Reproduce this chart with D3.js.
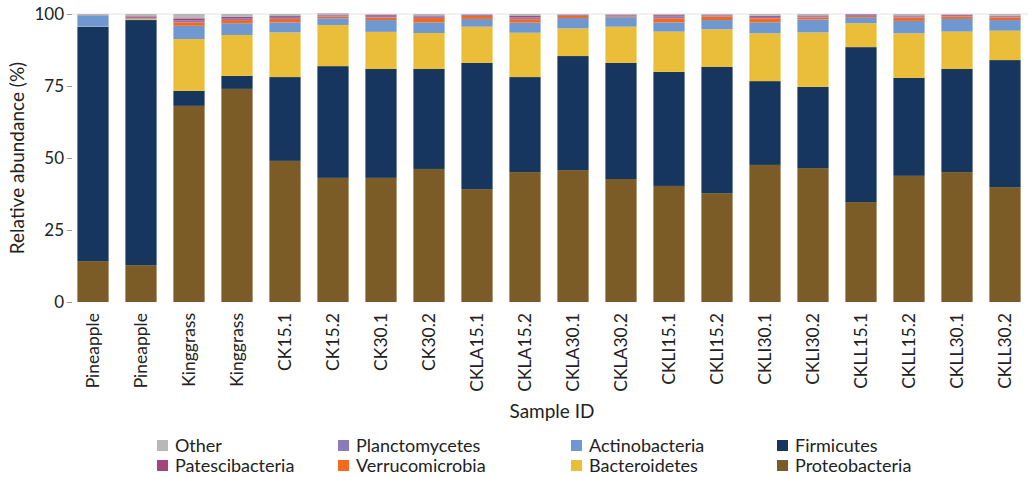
<!DOCTYPE html>
<html>
<head>
<meta charset="utf-8">
<script src="https://cdn.jsdelivr.net/npm/d3@7"></script>
<style>
  html, body { margin: 0; padding: 0; background: #fff; }
  svg { display: block; font-family: Lato, "Open Sans", sans-serif; }
</style>
</head>
<body>
<svg id="chart" width="1030" height="477"></svg>
<script>
// Samples along the x axis
const samples = ["Pineapple", "Pineapple", "Kinggrass", "Kinggrass", "CK15.1", "CK15.2", "CK30.1", "CK30.2",
  "CKLA15.1", "CKLA15.2", "CKLA30.1", "CKLA30.2", "CKLI15.1", "CKLI15.2", "CKLI30.1", "CKLI30.2",
  "CKLL15.1", "CKLL15.2", "CKLL30.1", "CKLL30.2"];

// Phyla, stacked from the bottom up
const phyla = ["Proteobacteria", "Firmicutes", "Bacteroidetes", "Actinobacteria",
  "Verrucomicrobia", "Planctomycetes", "Patescibacteria", "Other"];

// Relative abundance (%) per phylum, one value per sample
const proteobacteria  = [14.2, 12.8, 68.1, 74.0, 49.0, 43.1, 43.1, 46.2, 39.2, 45.1, 45.8, 42.7, 40.3, 37.8, 47.6, 46.5, 34.7, 43.8, 45.1, 39.9];
const firmicutes      = [81.3, 85.1,  5.2,  4.5, 29.1, 38.8, 37.8, 34.7, 43.8, 33.0, 39.6, 40.3, 39.6, 43.8, 29.1, 28.2, 53.8, 34.0, 35.8, 44.1];
const bacteroidetes   = [ 0.1,  0.3, 18.0, 14.2, 15.5, 14.3, 12.9, 12.5, 12.6, 15.4,  9.6, 12.6, 14.0, 13.1, 16.6, 18.9,  8.3, 15.5, 13.0, 10.2];
const actinobacteria  = [ 3.8,  0.3,  4.6,  4.1,  3.5,  2.3,  4.1,  3.7,  2.7,  3.5,  3.6,  3.3,  3.2,  3.2,  3.8,  4.5,  2.1,  4.3,  4.4,  3.7];
const verrucomicrobia = [ 0.0,  0.1,  1.2,  1.1,  1.2,  0.6,  0.9,  1.5,  1.0,  1.2,  0.7,  0.3,  1.4,  1.2,  1.4,  0.7,  0.4,  1.2,  0.8,  0.9];
const planctomycetes  = [ 0.1,  0.1,  0.6,  0.5,  0.7,  0.4,  0.6,  0.6,  0.3,  0.6,  0.2,  0.3,  0.7,  0.3,  0.5,  0.3,  0.3,  0.4,  0.3,  0.3];
const patescibacteria = [ 0.1,  0.5,  0.8,  0.6,  0.3,  0.3,  0.3,  0.3,  0.2,  0.5,  0.2,  0.2,  0.4,  0.2,  0.4,  0.4,  0.3,  0.3,  0.3,  0.3];
const other           = [ 0.4,  0.8,  1.5,  1.0,  0.7,  0.5,  0.3,  0.5,  0.2,  0.7,  0.3,  0.3,  0.4,  0.4,  0.6,  0.5,  0.1,  0.5,  0.3,  0.6];

const yTicks = [0, 25, 50, 75, 100];

// Legend entries in display order (two rows, four columns)
const legendOrder = ["Other", "Planctomycetes", "Actinobacteria", "Firmicutes",
  "Patescibacteria", "Verrucomicrobia", "Bacteroidetes", "Proteobacteria"];

const colors = {
  Proteobacteria: "#7b5c26",
  Firmicutes: "#16365e",
  Bacteroidetes: "#ebbe3a",
  Actinobacteria: "#6f98d0",
  Verrucomicrobia: "#f2691f",
  Planctomycetes: "#8b7bbb",
  Patescibacteria: "#a6457b",
  Other: "#b8b8b8"
};

const seriesValues = {
  Proteobacteria: proteobacteria, Firmicutes: firmicutes, Bacteroidetes: bacteroidetes,
  Actinobacteria: actinobacteria, Verrucomicrobia: verrucomicrobia, Planctomycetes: planctomycetes,
  Patescibacteria: patescibacteria, Other: other
};

// Build row table for d3.stack
const rows = samples.map((s, i) => {
  const r = { idx: i, sample: s };
  phyla.forEach(p => r[p] = seriesValues[p][i]);
  return r;
});

const svg = d3.select("#chart");

const x = d3.scaleBand()
  .domain(d3.range(samples.length))
  .range([72.6, 1025.4])
  .paddingInner(0.35)
  .paddingOuter(0.1);

const y = d3.scaleLinear().domain([0, 100]).range([302, 14]);

const layers = d3.stack().keys(phyla)(rows);

// Light reference line at 100 %
svg.append("line")
  .attr("x1", 72).attr("x2", 1028)
  .attr("y1", y(100)).attr("y2", y(100))
  .attr("stroke", "#e4e4e4").attr("stroke-width", 1.2);

// Stacked bars
svg.append("g")
  .selectAll("g")
  .data(layers)
  .join("g")
  .attr("fill", d => colors[d.key])
  .selectAll("rect")
  .data(d => d)
  .join("rect")
  .attr("x", d => x(d.data.idx))
  .attr("width", x.bandwidth())
  .attr("y", d => y(d[1]))
  .attr("height", d => Math.max(0, y(d[0]) - y(d[1])));

// Y axis
const yAxis = svg.append("g")
  .attr("transform", "translate(72,0)")
  .call(d3.axisLeft(y).tickValues(yTicks).tickSize(5).tickPadding(3));
yAxis.select(".domain").remove();
yAxis.selectAll(".tick line").attr("stroke", "#999");
yAxis.selectAll(".tick text")
  .attr("fill", "#222")
  .style("font-size", "17px")
  .style("font-family", "Lato, sans-serif");

// X axis labels, rotated
const xAxis = svg.append("g")
  .attr("transform", "translate(0,302)")
  .call(d3.axisBottom(x).tickSize(0).tickFormat(i => samples[i]));
xAxis.select(".domain").remove();
xAxis.selectAll(".tick text")
  .attr("transform", "rotate(-90)")
  .attr("text-anchor", "end")
  .attr("x", -11)
  .attr("y", 0)
  .attr("dy", "0.35em")
  .attr("fill", "#222")
  .style("font-size", "17.5px")
  .style("font-family", "Lato, sans-serif");

// Axis titles
svg.append("text")
  .attr("transform", `translate(24,${(y(0) + y(100)) / 2}) rotate(-90)`)
  .attr("text-anchor", "middle")
  .attr("fill", "#222")
  .style("font-size", "19px")
  .text("Relative abundance (%)");

svg.append("text")
  .attr("x", 552).attr("y", 418)
  .attr("text-anchor", "middle")
  .attr("fill", "#222")
  .style("font-size", "19px")
  .text("Sample ID");

// Legend
const colX = [157, 338, 571, 777];
const rowY = [440, 460];
const legend = svg.append("g");
legendOrder.forEach((name, i) => {
  const cx = colX[i % 4], cy = rowY[Math.floor(i / 4)];
  const g = legend.append("g").attr("transform", `translate(${cx},${cy})`);
  g.append("rect").attr("width", 11).attr("height", 11).attr("fill", colors[name]);
  g.append("text")
    .attr("x", 18).attr("y", 6).attr("dy", "0.35em")
    .attr("fill", "#222")
    .style("font-size", "18px")
    .text(name);
});
</script>
</body>
</html>
